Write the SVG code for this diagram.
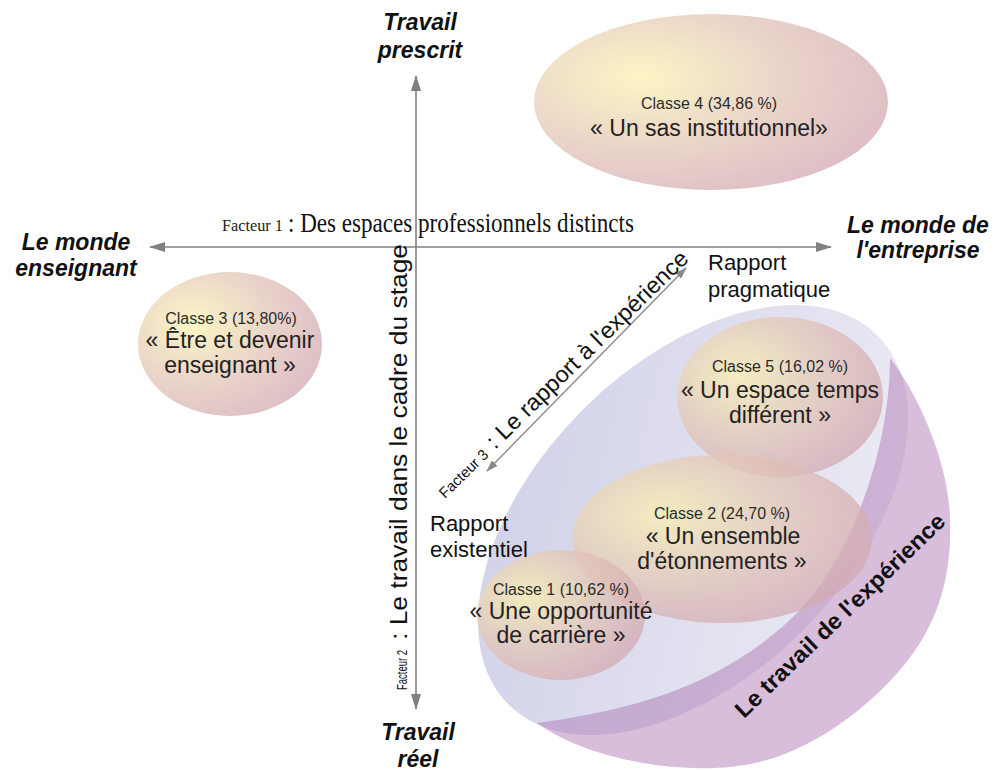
<svg xmlns="http://www.w3.org/2000/svg" width="994" height="771" viewBox="0 0 994 771">
<defs>
<style>
.t{font-family:"Liberation Sans",Arial,sans-serif;fill:#111}
.ax{font-weight:bold;font-style:italic;font-size:23px;text-anchor:middle}
.cs{font-size:16px;fill:#2b2b2b;text-anchor:middle}
.cl{font-size:23px;fill:#222;text-anchor:middle}
.axis{stroke:#808080;stroke-width:1.6;fill:none}
.cls{fill:url(#gCls);opacity:0.74}
</style>
<radialGradient id="gCls" cx="0.3" cy="0.36" r="0.8" fx="0.3" fy="0.36">
<stop offset="0" stop-color="#fbf2b0"/>
<stop offset="0.5" stop-color="#e3c6b6"/>
<stop offset="1" stop-color="#cfa3b1"/>
</radialGradient>
<linearGradient id="gBlue" x1="0" y1="0" x2="1" y2="1">
<stop offset="0" stop-color="#cbcce6"/>
<stop offset="1" stop-color="#eeedf5"/>
</linearGradient>
<marker id="ah" viewBox="0 0 16 10" markerWidth="16" markerHeight="10" refX="15" refY="5" orient="auto-start-reverse" markerUnits="userSpaceOnUse">
<path d="M0,0 L16,5 L0,10 z" fill="#808080"/>
</marker>
<marker id="ah2" viewBox="0 0 12 8" markerWidth="12" markerHeight="8" refX="11" refY="4" orient="auto-start-reverse" markerUnits="userSpaceOnUse">
<path d="M0,0 L12,4 L0,8 z" fill="#8a8a8a"/>
</marker>
</defs>
<rect width="994" height="771" fill="#ffffff"/>

<g id="experience-zone">
<ellipse cx="693" cy="520" rx="261" ry="156" transform="rotate(-45 693 520)" fill="url(#gBlue)" opacity="0.95"/>
<path d="M890,358 C915,390 950,460 950,523 C952,590 930,635 900,670 C870,705 820,745 767,760 C700,780 590,762 537,723 C620,712 720,690 797,613 C850,560 890,450 890,358 Z" fill="#aa6eaf" opacity="0.45"/>
<text class="t" font-weight="bold" font-size="23" transform="translate(744,719) rotate(-44)" textLength="282" lengthAdjust="spacingAndGlyphs">Le travail de l'expérience</text>
</g>

<g id="classe4">
<ellipse class="cls" cx="711" cy="102" rx="177" ry="88"/>
<text class="t cs" x="709" y="109">Classe 4 (34,86 %)</text>
<text class="t cl" x="709" y="136" font-size="24">« Un sas institutionnel»</text>
</g>

<g id="classe3">
<ellipse class="cls" cx="230" cy="344" rx="92" ry="72"/>
<text class="t cs" x="231" y="324" font-size="16.5">Classe 3 (13,80%)</text>
<text class="t cl" x="230" y="348">« Être et devenir</text>
<text class="t cl" x="230" y="373">enseignant »</text>
</g>

<g id="classe5">
<ellipse class="cls" cx="780" cy="397" rx="103" ry="80"/>
<text class="t cs" x="780" y="372">Classe 5 (16,02 %)</text>
<text class="t cl" x="780" y="398">« Un espace temps</text>
<text class="t cl" x="780" y="423">différent »</text>
</g>

<g id="classe2">
<ellipse class="cls" cx="722" cy="539" rx="150" ry="84"/>
<text class="t cs" x="722" y="519">Classe 2 (24,70 %)</text>
<text class="t cl" x="723" y="544">« Un ensemble</text>
<text class="t cl" x="722" y="569">d'étonnements »</text>
</g>

<g id="classe1">
<ellipse class="cls" cx="561" cy="615" rx="84" ry="65"/>
<text class="t cs" x="561" y="595" font-size="15">Classe 1 (10,62 %)</text>
<text class="t cl" x="561" y="619" font-size="21">« Une opportunité</text>
<text class="t cl" x="561" y="643" font-size="21">de carrière »</text>
</g>

<g id="connectors">
<line class="axis" x1="150" y1="247" x2="831" y2="247" marker-start="url(#ah)" marker-end="url(#ah)"/>
<line class="axis" x1="416" y1="76" x2="416" y2="709" marker-start="url(#ah)" marker-end="url(#ah)"/>
<line x1="487" y1="471" x2="686" y2="268" stroke="#8a8a8a" stroke-width="1.4" marker-start="url(#ah2)" marker-end="url(#ah2)"/>
</g>

<g id="facteur1">
<text x="222" y="231" font-family="Liberation Serif,'Times New Roman',serif" font-size="16" fill="#222" textLength="61" lengthAdjust="spacingAndGlyphs">Facteur 1</text>
<text x="288" y="232" font-family="Liberation Serif,'Times New Roman',serif" font-size="27" fill="#111" textLength="346" lengthAdjust="spacingAndGlyphs">: Des espaces professionnels distincts</text>
</g>

<g id="facteur2" transform="translate(407,690) rotate(-90)">
<text class="t" x="0" y="0" font-size="15" fill="#222" textLength="40" lengthAdjust="spacingAndGlyphs">Facteur 2</text>
<text class="t" x="50" y="0" font-size="23" textLength="396" lengthAdjust="spacingAndGlyphs">: Le travail dans le cadre du stage</text>
</g>

<g id="facteur3" transform="translate(445,499) rotate(-44.3)">
<text class="t" x="0" y="0" font-size="15" fill="#333" textLength="62" lengthAdjust="spacingAndGlyphs">Facteur 3</text>
<text class="t" x="70" y="0" font-size="23" textLength="272" lengthAdjust="spacingAndGlyphs">: Le rapport à l'expérience</text>
</g>

<g id="pole-prescrit"><text class="t ax" x="420" y="30">Travail</text><text class="t ax" x="420" y="58">prescrit</text></g>
<g id="pole-reel"><text class="t ax" x="418" y="740">Travail</text><text class="t ax" x="418" y="767">réel</text></g>
<g id="pole-enseignant"><text class="t ax" x="76" y="250">Le monde</text><text class="t ax" x="76" y="276">enseignant</text></g>
<g id="pole-entreprise"><text class="t ax" x="918" y="233">Le monde de</text><text class="t ax" x="918" y="258">l'entreprise</text></g>

<g id="rapport-pragmatique"><text class="t" x="708" y="270" font-size="22">Rapport</text><text class="t" x="708" y="297" font-size="22">pragmatique</text></g>
<g id="rapport-existentiel"><text class="t" x="430" y="531" font-size="22">Rapport</text><text class="t" x="430" y="557" font-size="22">existentiel</text></g>
</svg>
